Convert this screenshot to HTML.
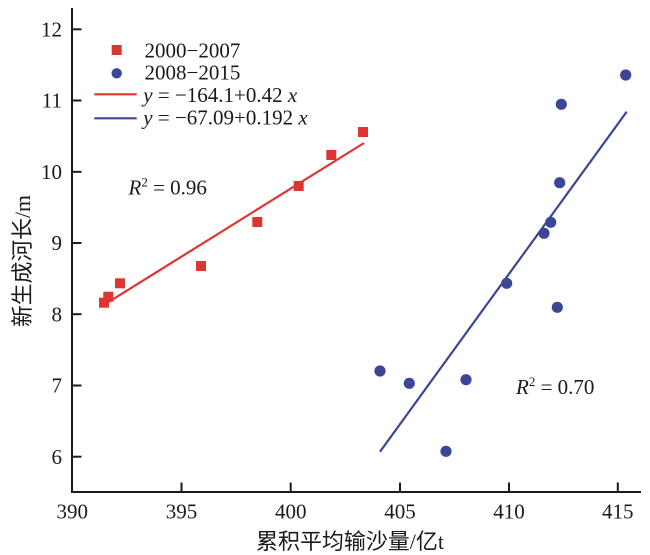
<!DOCTYPE html>
<html>
<head>
<meta charset="utf-8">
<style>
html,body{margin:0;padding:0;background:#fff;}
svg{display:block;}
text{font-family:"Liberation Serif","Noto Serif CJK SC",serif;fill:#1a1a1a;}
.cjk{font-family:"Liberation Serif","Noto Sans CJK SC",sans-serif;}
</style>
</head>
<body>
<svg width="650" height="555" viewBox="0 0 650 555" xmlns="http://www.w3.org/2000/svg">
  <!-- axes -->
  <g stroke="#1a1a1a" stroke-width="2" fill="none">
    <line x1="72" y1="8" x2="72" y2="493"/>
    <line x1="71" y1="492" x2="641" y2="492"/>
    <!-- y ticks -->
    <line x1="72" y1="29.3" x2="81.5" y2="29.3"/>
    <line x1="72" y1="100.5" x2="81.5" y2="100.5"/>
    <line x1="72" y1="171.8" x2="81.5" y2="171.8"/>
    <line x1="72" y1="243" x2="81.5" y2="243"/>
    <line x1="72" y1="314.2" x2="81.5" y2="314.2"/>
    <line x1="72" y1="385.5" x2="81.5" y2="385.5"/>
    <line x1="72" y1="456.7" x2="81.5" y2="456.7"/>
    <!-- x ticks -->
    <line x1="181.5" y1="492" x2="181.5" y2="482.5"/>
    <line x1="290.7" y1="492" x2="290.7" y2="482.5"/>
    <line x1="400" y1="492" x2="400" y2="482.5"/>
    <line x1="509" y1="492" x2="509" y2="482.5"/>
    <line x1="617.8" y1="492" x2="617.8" y2="482.5"/>
  </g>
  <!-- y tick labels -->
  <g font-size="21" text-anchor="end">
    <text x="62" y="36.5">12</text>
    <text x="62" y="107.7">11</text>
    <text x="62" y="179">10</text>
    <text x="62" y="250.2">9</text>
    <text x="62" y="321.4">8</text>
    <text x="62" y="392.7">7</text>
    <text x="62" y="463.9">6</text>
  </g>
  <!-- x tick labels -->
  <g font-size="21" text-anchor="middle">
    <text x="72.3" y="518.5">390</text>
    <text x="181.5" y="518.5">395</text>
    <text x="290.7" y="518.5">400</text>
    <text x="400" y="518.5">405</text>
    <text x="509" y="518.5">410</text>
    <text x="617.8" y="518.5">415</text>
  </g>
  <!-- axis titles -->
  <text class="cjk" x="350" y="549" font-size="22" text-anchor="middle" textLength="188" lengthAdjust="spacingAndGlyphs">累积平均输沙量/亿t</text>
  <text class="cjk" transform="translate(30,261) rotate(-90)" x="0" y="0" font-size="22" text-anchor="middle" textLength="132" lengthAdjust="spacingAndGlyphs">新生成河长/m</text>

  <!-- regression lines -->
  <line x1="107" y1="303" x2="364" y2="143" stroke="#dd3530" stroke-width="2.2"/>
  <line x1="380" y1="451.7" x2="626.7" y2="111.7" stroke="#3c4696" stroke-width="2.2"/>

  <!-- red squares -->
  <g fill="#dd3530">
    <rect x="99" y="297.7" width="10" height="10"/>
    <rect x="103.3" y="291.7" width="10" height="10"/>
    <rect x="115" y="278.3" width="10" height="10"/>
    <rect x="196" y="261" width="10" height="10"/>
    <rect x="252.3" y="217" width="10" height="10"/>
    <rect x="293.7" y="181" width="10" height="10"/>
    <rect x="326.3" y="150" width="10" height="10"/>
    <rect x="358" y="127" width="10" height="10"/>
  </g>
  <!-- blue circles -->
  <g fill="#3c4696">
    <circle cx="625.7" cy="75" r="5.6"/>
    <circle cx="561.3" cy="104.3" r="5.6"/>
    <circle cx="559.7" cy="182.7" r="5.6"/>
    <circle cx="550.7" cy="222.3" r="5.6"/>
    <circle cx="544" cy="233.3" r="5.6"/>
    <circle cx="506.7" cy="283.3" r="5.6"/>
    <circle cx="557.3" cy="307.3" r="5.6"/>
    <circle cx="380" cy="371" r="5.6"/>
    <circle cx="409.3" cy="383.3" r="5.6"/>
    <circle cx="466" cy="379.7" r="5.6"/>
    <circle cx="446" cy="451.3" r="5.6"/>
  </g>

  <!-- legend -->
  <rect x="111.7" y="45" width="10" height="10" fill="#dd3530"/>
  <circle cx="116.7" cy="73.3" r="5.2" fill="#3c4696"/>
  <line x1="94.3" y1="94.3" x2="136.7" y2="94.3" stroke="#dd3530" stroke-width="2.2"/>
  <line x1="94.3" y1="118.3" x2="136.7" y2="118.3" stroke="#3c4696" stroke-width="2.2"/>
  <g font-size="21">
    <text x="144.5" y="57.5">2000−2007</text>
    <text x="144.5" y="79.5">2008−2015</text>
    <text x="143.3" y="102"><tspan font-style="italic">y</tspan> = −164.1+0.42 <tspan font-style="italic">x</tspan></text>
    <text x="143.3" y="124.5"><tspan font-style="italic">y</tspan> = −67.09+0.192 <tspan font-style="italic">x</tspan></text>
  </g>

  <!-- R² labels -->
  <text x="128.5" y="194.5" font-size="21"><tspan font-style="italic">R</tspan><tspan font-size="13" dy="-8">2</tspan><tspan dy="8"> = 0.96</tspan></text>
  <text x="516" y="394" font-size="21"><tspan font-style="italic">R</tspan><tspan font-size="13" dy="-8">2</tspan><tspan dy="8"> = 0.70</tspan></text>
</svg>
</body>
</html>
